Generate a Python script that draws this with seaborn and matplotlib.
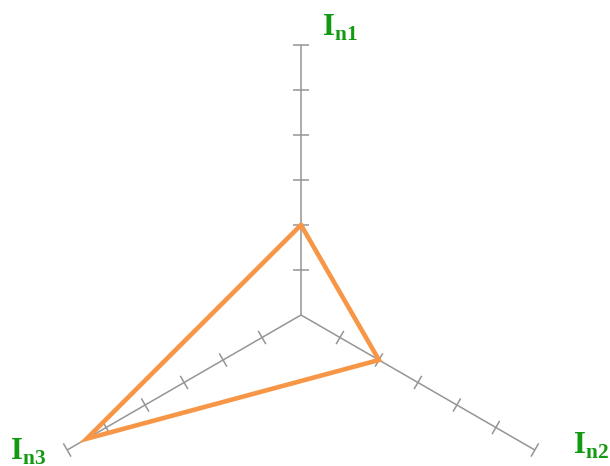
import numpy as np
import pandas as pd
import matplotlib
matplotlib.use("Agg")
import matplotlib.pyplot as plt
import seaborn as sns

# Radar chart data
categories = ["n1", "n2", "n3"]
values = [2.0, 2.0, 5.5]
r_max = 6
tick_steps = [1, 2, 3, 4, 5, 6]

sns.set_theme(style="white")
plt.rcParams["mathtext.fontset"] = "custom"
plt.rcParams["mathtext.rm"] = "Liberation Serif"
plt.rcParams["mathtext.bf"] = "Liberation Serif:bold"
plt.rcParams["font.family"] = ["Liberation Serif", "DejaVu Sans"]

AXIS_COLOR = "#959595"
LINE_COLOR = "#f79646"
LABEL_COLOR = "#139a13"

fig = plt.figure(figsize=(6.10, 4.66), dpi=100)
ax = fig.add_axes([0, 0, 1, 1])
ax.set_xlim(-301 / 45, (610 - 301) / 45)
ax.set_ylim(-151 / 45, 315 / 45)
ax.set_aspect("equal")
ax.axis("off")

# Axis directions: first spoke straight up, then clockwise every 120 degrees
angles = np.deg2rad([90, -30, -150])

# Spokes with tick marks
half = 0.17
for a in angles:
    ux, uy = np.cos(a), np.sin(a)
    px, py = -uy, ux
    ax.plot([0, r_max * ux], [0, r_max * uy], color=AXIS_COLOR, lw=1.1,
            solid_capstyle="butt", zorder=1)
    for t in tick_steps:
        cx, cy = t * ux, t * uy
        ax.plot([cx - half * px, cx + half * px], [cy - half * py, cy + half * py],
                color=AXIS_COLOR, lw=1.1, solid_capstyle="butt", zorder=1)

# Data polygon (closed back to the first point)
xs = [v * np.cos(a) for v, a in zip(values, angles)]
ys = [v * np.sin(a) for v, a in zip(values, angles)]
df = pd.DataFrame({"x": xs + xs[:1], "y": ys + ys[:1]})
sns.lineplot(data=df, x="x", y="y", sort=False, estimator=None, color=LINE_COLOR,
             lw=3.3, ax=ax, zorder=3, legend=False)
poly = ax.lines[-1]
poly.set_solid_joinstyle("miter")
poly.set_solid_capstyle("round")

# Axis labels
label_pos = [(0.87, 6.38), (6.44, -2.91), (-6.07, -3.05)]
for cat, (lx, ly) in zip(categories, label_pos):
    ax.text(lx, ly, r"$\mathbf{I}_{\mathbf{%s}}$" % cat, color=LABEL_COLOR,
            fontsize=22, ha="center", va="center")

fig.savefig("out.png", dpi=100)
